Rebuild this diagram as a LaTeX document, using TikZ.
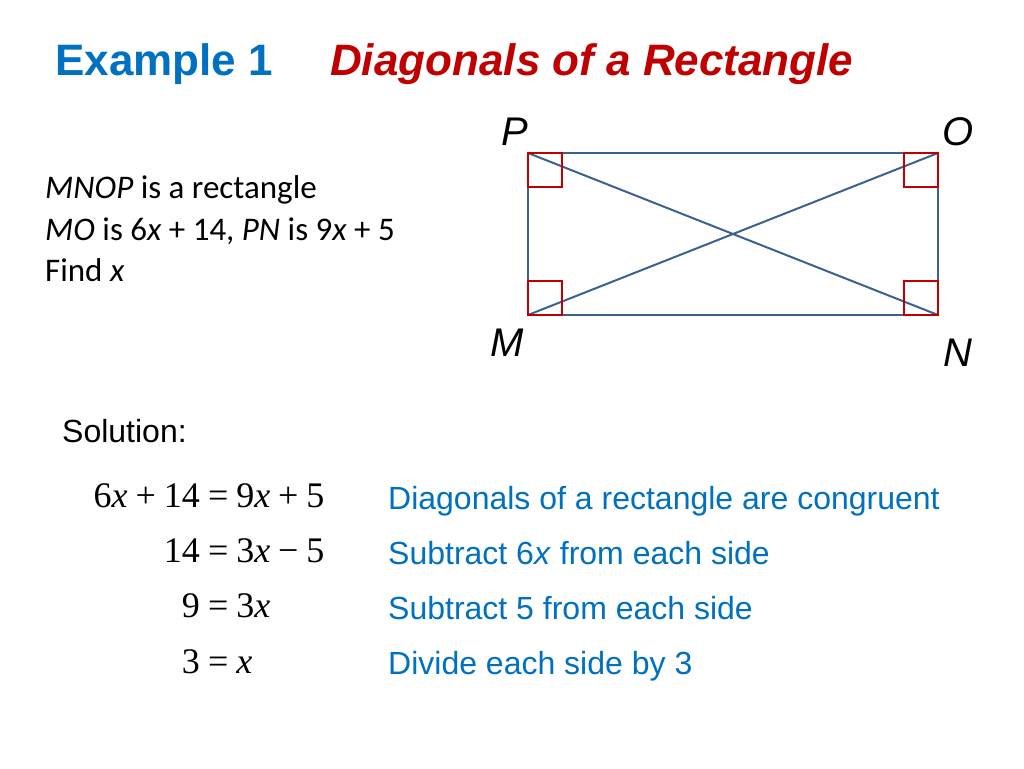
\documentclass[tikz,border=0pt]{standalone}
\usepackage{fontspec}
\setmainfont{Liberation Sans}
\newfontfamily\calfont{Carlito}
\newfontfamily\serfont{Liberation Serif}
\usepackage{xcolor}
\definecolor{tblue}{HTML}{0070C0}
\definecolor{tred}{HTML}{C00000}
\definecolor{lblue}{HTML}{3A6190}
\newcommand{\eqsp}{\hspace{0.22em}}
\begin{document}
\begin{tikzpicture}[x=1pt,y=-1pt,
  lab/.style={font=\fontsize{40}{44}\selectfont\itshape,inner sep=0},
  sq/.style={draw=tred,line width=2pt},
  side/.style={draw=lblue,line width=2pt},
  eq/.style={font=\fontsize{36}{40}\selectfont\serfont,inner sep=0,anchor=base},
  stp/.style={font=\fontsize{32}{36}\selectfont,text=tblue,inner sep=0,anchor=base west},
  body/.style={font=\fontsize{33}{36}\selectfont\calfont,inner sep=0,anchor=base west}]
\useasboundingbox (0,0) rectangle (1024,768);
\node[font=\fontsize{44}{48}\selectfont\bfseries,text=tblue,inner sep=0,anchor=base west] (t1) at (55,75) {Example 1};
\node[font=\fontsize{44}{48}\selectfont\bfseries\itshape,text=tred,inner sep=0,anchor=base west] (t2) at (330,75) {Diagonals of a Rectangle};
\coordinate (M) at (528,315); \coordinate (N) at (938,315);
\coordinate (O) at (938,153); \coordinate (P) at (528,153);
\draw[side] (M) -- (N) -- (O) -- (P) -- cycle;
\draw[side] (M) -- (O); \draw[side] (P) -- (N);
\draw[sq] (528,281) rectangle (562,315);
\draw[sq] (904,281) rectangle (938,315);
\draw[sq] (528,153) rectangle (562,187);
\draw[sq] (904,153) rectangle (938,187);
\node[lab,anchor=base] (lp) at (515,145) {P};
\node[lab,anchor=base] (lo) at (958,145) {O};
\node[lab,anchor=base] (lm) at (507,356) {M};
\node[lab,anchor=base] (ln) at (958,366) {N};
\node[body] (b1) at (45,198) {\itshape MNOP\upshape{} is a rectangle};
\node[body] (b2) at (45,240) {\itshape MO\upshape{} is 6\itshape x\upshape{} + 14, \itshape PN\upshape{} is 9\itshape x\upshape{} + 5};
\node[body] (b3) at (45,281) {Find \itshape x};
\node[font=\fontsize{32}{36}\selectfont,inner sep=0,anchor=base west] (sol) at (62,442) {Solution:};
\node[eq,anchor=base east] (e1l) at (200,507) {6\textit{x}\eqsp+\eqsp14};
\node[eq,anchor=base west] (e1r) at (200,507) {\eqsp=\eqsp9\textit{x}\eqsp+\eqsp5};
\node[eq,anchor=base east] (e2l) at (200,562) {14};
\node[eq,anchor=base west] (e2r) at (200,562) {\eqsp=\eqsp3\textit{x}\eqsp\textminus\eqsp5};
\node[eq,anchor=base east] (e3l) at (200,617) {9};
\node[eq,anchor=base west] (e3r) at (200,617) {\eqsp=\eqsp3\textit{x}};
\node[eq,anchor=base east] (e4l) at (200,673) {3};
\node[eq,anchor=base west] (e4r) at (200,673) {\eqsp=\eqsp\textit{x}};
\node[stp] (s1) at (388,509) {Diagonals of a rectangle are congruent};
\node[stp] (s2) at (388,564) {Subtract 6\textit{x} from each side};
\node[stp] (s3) at (388,619) {Subtract 5 from each side};
\node[stp] (s4) at (388,674) {Divide each side by 3};
\end{tikzpicture}
\end{document}
